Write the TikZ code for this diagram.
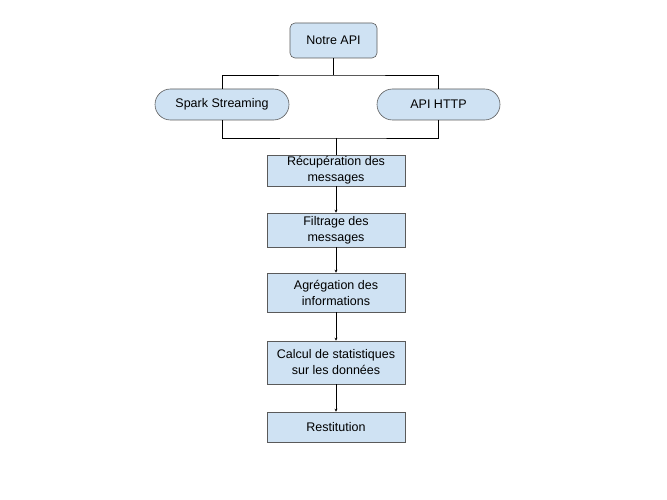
\documentclass[tikz,border=0pt]{standalone}
\usepackage{fontspec}
\setmainfont{Liberation Sans}
\usetikzlibrary{arrows.meta}
\definecolor{boxBlue}{RGB}{207,226,243}
\definecolor{boxLine}{RGB}{90,90,90}

\begin{document}
\begin{tikzpicture}[x=1pt, y=-1pt, font=\fontsize{12.5}{16}\selectfont ,
stepBox/.style={rectangle, draw=boxLine, fill=boxBlue, line width=0.6pt, minimum width=138pt, align=center, inner sep=1pt} ,
apiBox/.style={stepBox, rounded corners=5pt, minimum width=87pt, minimum height=35pt} ,
pill/.style={stepBox, rounded corners=15.5pt, minimum height=31pt} ,
link/.style={draw=black, line width=0.8pt} ,
flow/.style={link, -{Stealth[length=3pt, width=3pt]}}
]
\useasboundingbox (0,0) rectangle (667,500) ;

\node [apiBox] (api) at (333.5,40.5) {Notre API} ;
\node [pill, minimum width=134pt] (spark) at (222,104.5) {Spark Streaming} ;
\node [pill, minimum width=123pt] (http) at (438.5,104.5) {API HTTP} ;

\node [stepBox, minimum height=31pt] (recup) at (336,170.5) {Récupération des\\messages} ;
\node [stepBox, minimum height=34pt] (filtre) at (336,230) {Filtrage des\\messages} ;
\node [stepBox, minimum height=39pt] (agreg) at (336,292.5) {Agrégation des\\informations} ;
\node [stepBox, minimum height=43pt] (calcul) at (336,362.5) {Calcul de statistiques\\sur les données} ;
\node [stepBox, minimum height=30pt] (restit) at (336,427) {Restitution} ;

% split and merge
\coordinate (split) at (333.5,75) ;
\coordinate (merge) at (336,138) ;
\draw [link] (api) -- (split) ;
\draw [link] (spark.north) |- (split) -| (http.north) ;
\draw [link] (spark.south) |- (merge) -| (http.south) ;
\draw [link] (merge) -- (recup.north) ;

% chain
\draw [flow] (recup) -- (filtre) ;
\draw [flow] (filtre) -- (agreg) ;
\draw [flow] (agreg) -- (calcul) ;
\draw [flow] (calcul) -- (restit) ;
\end{tikzpicture}
\end{document}
